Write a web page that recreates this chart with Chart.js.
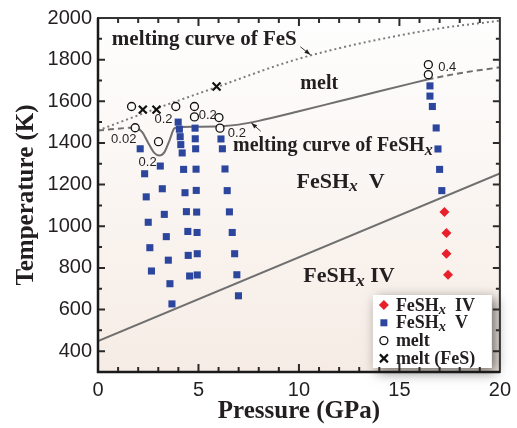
<!DOCTYPE html>
<html>
<head>
<meta charset="utf-8">
<script src="https://cdn.jsdelivr.net/npm/chart.js@4.4.0/dist/chart.umd.min.js"></script>
<style>
  html, body { margin: 0; padding: 0; background: #fff; }
  #wrap { width: 517px; height: 428px; position: relative; }
</style>
</head>
<body>
<div id="wrap"><canvas id="c"></canvas></div>
<script>
(function () {
  "use strict";

  // ---------- Data ----------
  // FeSH_x IV (red diamonds)
  const IV_P = [17.24, 17.34, 17.34, 17.42];
  const IV_T = [1068, 968, 868, 767];

  // FeSH_x V (blue squares)
  const V_P = [
    2.10, 2.32, 2.40, 2.50, 2.58, 2.66,
    3.10, 3.20, 3.30, 3.40, 3.50, 3.58, 3.68,
    3.99, 4.05, 4.09, 4.12, 4.19, 4.26, 4.33, 4.40, 4.47, 4.49, 4.56,
    4.83, 4.84, 4.86, 4.88, 4.89, 4.91, 4.93, 4.94, 4.94,
    6.12, 6.19, 6.32, 6.43, 6.54, 6.68, 6.80, 6.91, 6.99,
    16.52, 16.52, 16.64, 16.83, 16.92, 17.00, 17.11
  ];
  const V_T = [
    1372, 1252, 1141, 1019, 897, 785,
    1289, 1180, 1057, 950, 837, 724, 627,
    1500, 1466, 1430, 1392, 1352, 1273, 1161, 1070, 975, 860, 761,
    1471, 1420, 1372, 1274, 1172, 1068, 970, 868, 766,
    1419, 1372, 1275, 1171, 1069, 970, 868, 767, 666,
    1674, 1625, 1575, 1472, 1371, 1273, 1171
  ];

  // melt (open circles)
  const MELT_P = [1.67, 1.85, 3.01, 3.87, 4.80, 4.80, 6.02, 6.07, 16.44, 16.44];
  const MELT_T = [1575, 1473, 1406, 1575, 1575, 1525, 1522, 1471, 1776, 1728];

  // melt (FeS) crosses
  const FES_P = [2.23, 2.91, 5.90];
  const FES_T = [1560, 1560, 1671];

  // melting curve of FeS (dotted)
  const FES_CURVE_P = [0, 2.9, 5.9, 9.5, 12, 14.4, 17, 20];
  const FES_CURVE_T = [1460, 1565, 1668, 1790, 1855, 1905, 1950, 1987];

  // melting curve of FeSH_x (solid part, with dip)
  const MC_P = [1.5, 1.9, 2.2, 2.5, 2.8, 3.05, 3.3, 3.55, 3.8, 4.1, 5.0, 6.3, 7.0, 8, 10, 12, 14, 16.4];
  const MC_T = [1473, 1472, 1452, 1400, 1352, 1340, 1355, 1410, 1470, 1477, 1478, 1481, 1488, 1506, 1552, 1600, 1648, 1705];
  // dashed extrapolations
  const MC_LO_P = [0, 1.5];
  const MC_LO_T = [1460, 1473];
  const MC_HI_P = [16.4, 18, 20];
  const MC_HI_T = [1705, 1735, 1763];

  // IV / V phase boundary
  const PB_P = [0, 20];
  const PB_T = [448, 1254];

  // axis ticks
  const X_TICKS = [0, 5, 10, 15, 20];
  const Y_TICKS = [400, 600, 800, 1000, 1200, 1400, 1600, 1800, 2000];
  const X_MINOR = [1, 2, 3, 4, 5, 6, 7, 8, 9, 10, 11, 12, 13, 14, 15, 16, 17, 18, 19];
  const Y_MINOR = [400, 500, 600, 700, 800, 900, 1000, 1100, 1200, 1300, 1400, 1500, 1600, 1700, 1800, 1900];

  // ---------- Text annotations (data coords) ----------
  const LABELS = [
    { parts: [{ t: "melting curve of FeS" }], p: 0.69, T: 1871, size: 21 },
    { parts: [{ t: "melt" }], p: 10.07, T: 1661, size: 20 },
    { parts: [{ t: "melting curve of FeSH" }, { t: "x", sub: true }], p: 6.72, T: 1360, size: 20 },
    { parts: [{ t: "FeSH" }, { t: "x", sub: true }, { t: "\u2002V" }], p: 9.88, T: 1185, size: 22 },
    { parts: [{ t: "FeSH" }, { t: "x", sub: true }, { t: " IV" }], p: 10.22, T: 731, size: 22 }
  ];
  const NUMS = [
    { t: "0.02", p: 1.28, T: 1417 },
    { t: "0.2", p: 2.47, T: 1308 },
    { t: "0.2", p: 3.26, T: 1513 },
    { t: "0.2", p: 5.46, T: 1532 },
    { t: "0.2", p: 6.91, T: 1446 },
    { t: "0.4", p: 17.38, T: 1761 }
  ];
  const ARROWS = [
    { from: [10.07, 1862], to: [10.57, 1823] },
    { from: [8.10, 1456], to: [7.63, 1496] }
  ];

  const SERIF = '"Liberation Serif", "Times New Roman", serif';
  const SANS = '"Liberation Sans", Arial, sans-serif';
  const INK = "#231f20";
  const BLUE = "#2c469e";
  const RED = "#e8202a";
  const GREY = "#6f6f6f";

  const pts = (xs, ys) => xs.map((x, i) => ({ x: x, y: ys[i] }));

  // ---------- Drawing helpers ----------
  function richText(ctx, parts, x, y, size) {
    let cx = x;
    parts.forEach((p) => {
      const fs = p.sub ? size * 0.8 : size;
      ctx.font = (p.sub ? "italic bold " : "bold ") + fs + "px " + SERIF;
      ctx.fillText(p.t, cx, p.sub ? y + size * 0.17 : y);
      cx += ctx.measureText(p.t).width;
    });
  }
  function arrow(ctx, x1, y1, x2, y2) {
    ctx.beginPath();
    ctx.moveTo(x1, y1);
    ctx.lineTo(x2, y2);
    ctx.stroke();
    const a = Math.atan2(y2 - y1, x2 - x1);
    const L = 6, W = 2.2;
    ctx.beginPath();
    ctx.moveTo(x2, y2);
    ctx.lineTo(x2 - L * Math.cos(a) + W * Math.sin(a), y2 - L * Math.sin(a) - W * Math.cos(a));
    ctx.lineTo(x2 - L * Math.cos(a) - W * Math.sin(a), y2 - L * Math.sin(a) + W * Math.cos(a));
    ctx.closePath();
    ctx.fill();
  }
  function marker(ctx, kind, x, y) {
    ctx.save();
    if (kind === "diamond") {
      ctx.fillStyle = RED;
      ctx.beginPath();
      ctx.moveTo(x - 5, y); ctx.lineTo(x, y - 5); ctx.lineTo(x + 5, y); ctx.lineTo(x, y + 5);
      ctx.closePath(); ctx.fill();
    } else if (kind === "square") {
      ctx.fillStyle = BLUE;
      ctx.fillRect(x - 3.5, y - 3.5, 7, 7);
    } else if (kind === "circle") {
      ctx.strokeStyle = "#111"; ctx.lineWidth = 1.3;
      ctx.beginPath(); ctx.arc(x, y, 4, 0, Math.PI * 2); ctx.stroke();
    } else {
      ctx.strokeStyle = "#111"; ctx.lineWidth = 2.2;
      ctx.beginPath();
      ctx.moveTo(x - 4, y - 4); ctx.lineTo(x + 4, y + 4);
      ctx.moveTo(x + 4, y - 4); ctx.lineTo(x - 4, y + 4);
      ctx.stroke();
    }
    ctx.restore();
  }

  const bgPlugin = {
    id: "bg",
    beforeDatasetsDraw(chart) {
      const { ctx, chartArea: a } = chart;
      const g = ctx.createLinearGradient(0, a.top, 0, a.bottom);
      g.addColorStop(0, "#fefefe");
      g.addColorStop(1, "#f6ece5");
      ctx.save();
      ctx.fillStyle = g;
      ctx.fillRect(a.left, a.top, a.width, a.height);
      ctx.restore();
    }
  };

  const decorPlugin = {
    id: "decor",
    afterDatasetsDraw(chart) {
      const { ctx, chartArea: a, scales } = chart;
      const X = (v) => scales.x.getPixelForValue(v);
      const Y = (v) => scales.y.getPixelForValue(v);
      ctx.save();

      // annotations
      ctx.fillStyle = INK;
      ctx.textAlign = "left";
      ctx.textBaseline = "alphabetic";
      LABELS.forEach((l) => richText(ctx, l.parts, X(l.p), Y(l.T), l.size));

      ctx.font = "13px " + SANS;
      ctx.textAlign = "center";
      ctx.textBaseline = "middle";
      NUMS.forEach((n) => ctx.fillText(n.t, X(n.p), Y(n.T)));

      ctx.strokeStyle = INK;
      ctx.lineWidth = 0.9;
      ARROWS.forEach((r) => arrow(ctx, X(r.from[0]), Y(r.from[1]), X(r.to[0]), Y(r.to[1])));

      // legend box
      const w = 119, h = 73;
      const lx = a.right - 8 - w, ly = a.bottom - 4 - h;
      ctx.save();
      ctx.shadowColor = "rgba(0,0,0,0.55)";
      ctx.shadowBlur = 12;
      ctx.shadowOffsetX = 4;
      ctx.shadowOffsetY = 4;
      ctx.fillStyle = "#fff";
      ctx.fillRect(lx, ly, w, h);
      ctx.restore();
      const rows = [
        { k: "diamond", parts: [{ t: "FeSH" }, { t: "x", sub: true }, { t: "\u2002IV" }] },
        { k: "square", parts: [{ t: "FeSH" }, { t: "x", sub: true }, { t: "\u2002V" }] },
        { k: "circle", parts: [{ t: "melt" }] },
        { k: "cross", parts: [{ t: "melt (FeS)" }] }
      ];
      ctx.fillStyle = INK;
      ctx.textAlign = "left";
      ctx.textBaseline = "alphabetic";
      rows.forEach((r, i) => {
        const cy = ly + 10 + i * 17.8;
        marker(ctx, r.k, lx + 11, cy);
        ctx.fillStyle = INK;
        richText(ctx, r.parts, lx + 23, cy + 5.5, 18);
      });

      // frame with inward ticks
      ctx.strokeStyle = "#2a2a2a";
      ctx.lineWidth = 2;
      ctx.beginPath();
      X_MINOR.forEach((v) => {
        const px = X(v);
        const len = X_TICKS.includes(v) ? 8 : 5;
        ctx.moveTo(px, a.top); ctx.lineTo(px, a.top + len);
        ctx.moveTo(px, a.bottom); ctx.lineTo(px, a.bottom - len);
      });
      Y_MINOR.forEach((v) => {
        const py = Y(v);
        const len = Y_TICKS.includes(v) ? 7 : 4;
        ctx.moveTo(a.left, py); ctx.lineTo(a.left + len, py);
        ctx.moveTo(a.right, py); ctx.lineTo(a.right - len, py);
      });
      ctx.stroke();
      ctx.strokeStyle = "#333";
      ctx.strokeRect(a.left, a.top, a.width, a.height);
      ctx.strokeStyle = "#1a1a1a";
      ctx.lineWidth = 2.5;
      ctx.beginPath();
      ctx.moveTo(a.left, a.top); ctx.lineTo(a.left, a.bottom); ctx.lineTo(a.right, a.bottom);
      ctx.stroke();
      ctx.restore();
    }
  };

  const curve = (data, dash, extra) => Object.assign({
    data: data,
    showLine: true,
    borderColor: GREY,
    borderWidth: 2,
    borderDash: dash,
    pointRadius: 0,
    cubicInterpolationMode: "monotone",
    order: 5
  }, extra || {});

  new Chart(document.getElementById("c"), {
    type: "scatter",
    data: {
      datasets: [
        { label: "FeSH_x IV", data: pts(IV_P, IV_T), pointStyle: "rectRot", pointRadius: 5, backgroundColor: RED, borderWidth: 0, order: 1 },
        { label: "FeSH_x V", data: pts(V_P, V_T), pointStyle: "rect", pointRadius: 5, backgroundColor: BLUE, borderWidth: 0, order: 1 },
        { label: "melt", data: pts(MELT_P, MELT_T), pointStyle: "circle", pointRadius: 4, backgroundColor: "rgba(253,252,250,0.95)", borderColor: "#111", borderWidth: 1.3, order: 0 },
        { label: "melt (FeS)", data: pts(FES_P, FES_T), pointStyle: "crossRot", pointRadius: 5.6, borderColor: "#111", borderWidth: 2.2, order: 0 },
        curve(pts(FES_CURVE_P, FES_CURVE_T), [2, 3], { borderColor: "#7c7c7c" }),
        curve(pts(MC_P, MC_T), []),
        curve(pts(MC_LO_P, MC_LO_T), [6, 4]),
        curve(pts(MC_HI_P, MC_HI_T), [6, 4]),
        curve(pts(PB_P, PB_T), [])
      ]
    },
    options: {
      responsive: true,
      maintainAspectRatio: false,
      animation: false,
      devicePixelRatio: 1,
      layout: { padding: { top: 15, right: 14, left: 0, bottom: 0 } },
      plugins: { legend: { display: false }, tooltip: { enabled: false } },
      scales: {
        x: {
          type: "linear",
          min: 0,
          max: 20,
          grid: { display: false, drawTicks: false },
          border: { display: false },
          afterBuildTicks: (s) => { s.ticks = X_TICKS.map((v) => ({ value: v })); },
          afterFit: (s) => { s.height = 56; },
          ticks: { color: INK, padding: 6, font: { family: SANS, size: 20 }, callback: (v) => String(v) },
          title: { display: true, text: "Pressure (GPa)", color: INK, padding: { top: 0, bottom: 1 }, font: { family: SERIF, size: 25, weight: "bold" } }
        },
        y: {
          type: "linear",
          min: 300,
          max: 2000,
          grid: { display: false, drawTicks: false },
          border: { display: false },
          afterBuildTicks: (s) => { s.ticks = Y_TICKS.map((v) => ({ value: v })); },
          afterFit: (s) => { s.width = 98; },
          ticks: { color: INK, padding: 6, font: { family: SANS, size: 20 }, callback: (v) => String(v) },
          title: { display: true, text: "Temperature (K)", color: INK, padding: { top: 12, bottom: 0 }, font: { family: SERIF, size: 25, weight: "bold" } }
        }
      }
    },
    plugins: [bgPlugin, decorPlugin]
  });
})();
</script>
</body>
</html>
